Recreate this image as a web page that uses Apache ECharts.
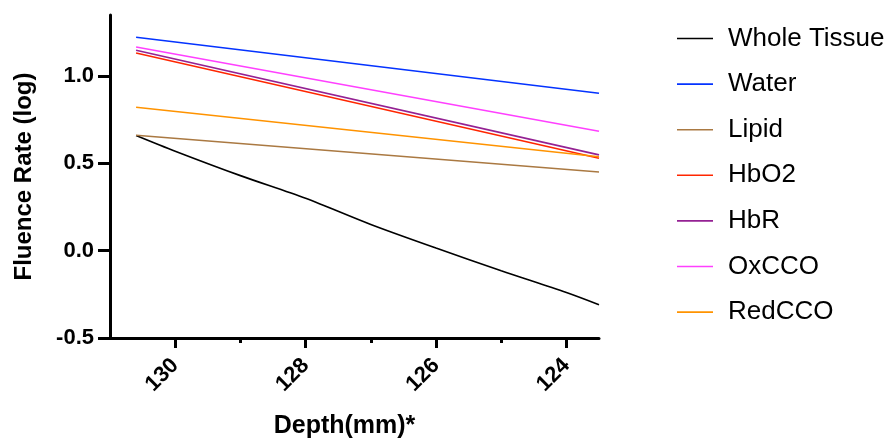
<!DOCTYPE html>
<html>
<head>
<meta charset="utf-8">
<style>
  html, body { margin: 0; padding: 0; background: #fff; }
  #chart { width: 888px; height: 444px; }
</style>
<script src="https://cdn.jsdelivr.net/npm/echarts@6/dist/echarts.min.js"></script>
</head>
<body>
<div id="chart"></div>
<script>
// Fluence rate (log) against depth for the whole tissue and each chromophore
const seriesNames = ['Whole Tissue', 'Water', 'Lipid', 'HbO2', 'HbR', 'OxCCO', 'RedCCO'];
const seriesColors = ['#000000', '#0433FF', '#AA7942', '#FF2600', '#942193', '#FF40FF', '#FF9300'];

// depth (mm) sampled along the whole-tissue curve
const tissueDepth = [130.6, 130, 129, 128, 127, 126, 125, 124, 123.5];
const tissueRate  = [0.66, 0.57, 0.43, 0.30, 0.15, 0.015, -0.115, -0.24, -0.31];

// chromophore lines: start and end depth
const lineDepth = [130.6, 123.5];
const waterRate  = [1.223, 0.902];
const lipidRate  = [0.661, 0.451];
const hbo2Rate   = [1.132, 0.530];
const hbrRate    = [1.148, 0.549];
const oxccoRate  = [1.167, 0.684];
const redccoRate = [0.822, 0.538];

const xMajorTicks = [124, 126, 128, 130];
const xMinorTicks = [125, 127, 129];
const yTicks = [-0.5, 0, 0.5, 1.0];

const pair = (xs, ys) => xs.map((x, i) => [x, ys[i]]);
const seriesData = [
  pair(tissueDepth, tissueRate),
  pair(lineDepth, waterRate),
  pair(lineDepth, lipidRate),
  pair(lineDepth, hbo2Rate),
  pair(lineDepth, hbrRate),
  pair(lineDepth, oxccoRate),
  pair(lineDepth, redccoRate)
];

const font = 'Liberation Sans, Arial, Helvetica, sans-serif';
const chart = echarts.init(document.getElementById('chart'), null, { renderer: 'canvas' });

chart.setOption({
  animation: false,
  backgroundColor: '#ffffff',
  color: seriesColors,
  grid: { left: 110, right: 289, top: 15, bottom: 104, containLabel: false },
  legend: {
    orient: 'vertical',
    left: 672,
    top: 19,
    icon: 'rect',
    itemWidth: 36,
    itemHeight: 1.6,
    itemGap: 16.6,
    textStyle: { fontFamily: font, fontSize: 26, color: '#000', padding: [0, 0, 0, 10], lineHeight: 29 },
    data: seriesNames
  },
  xAxis: [{
    type: 'value',
    inverse: true,
    min: 123.5,
    max: 131,
    name: 'Depth(mm)*',
    nameLocation: 'middle',
    nameGap: 76,
    nameTextStyle: { fontFamily: font, fontSize: 25, fontWeight: 'bold', color: '#000', padding: [0, 20, 0, 0] },
    axisLine: { show: true, onZero: false, lineStyle: { color: '#000', width: 3 } },
    axisTick: { show: true, length: 10, lineStyle: { color: '#000', width: 3 }, customValues: xMajorTicks },
    axisLabel: {
      customValues: xMajorTicks,
      rotate: 45,
      margin: 24,
      fontFamily: font, fontSize: 22, fontWeight: 'bold', color: '#000'
    },
    splitLine: { show: false }
  }, {
    type: 'value',
    inverse: true,
    min: 123.5,
    max: 131,
    position: 'bottom',
    axisLine: { show: false, onZero: false },
    axisTick: { show: true, length: 5, lineStyle: { color: '#000', width: 3 }, customValues: xMinorTicks },
    axisLabel: { show: false },
    splitLine: { show: false }
  }],
  yAxis: {
    type: 'value',
    min: -0.5,
    max: 1.35,
    name: 'Fluence Rate (log)',
    nameLocation: 'middle',
    nameGap: 74,
    nameTextStyle: { fontFamily: font, fontSize: 24, fontWeight: 'bold', color: '#000' },
    axisLine: { show: true, onZero: false, lineStyle: { color: '#000', width: 3 } },
    axisTick: { show: true, length: 12, lineStyle: { color: '#000', width: 3 }, customValues: yTicks },
    axisLabel: {
      customValues: yTicks,
      margin: 16,
      formatter: v => v.toFixed(1),
      fontFamily: font, fontSize: 22, fontWeight: 'bold', color: '#000'
    },
    splitLine: { show: false }
  },
  series: seriesNames.map((name, i) => ({
    name,
    type: 'line',
    xAxisIndex: 0,
    data: seriesData[i],
    symbol: 'none',
    smooth: i === 0 ? 0.3 : false,
    lineStyle: { width: 1.6, color: seriesColors[i] },
    itemStyle: { color: seriesColors[i] }
  }))
});
</script>
</body>
</html>
